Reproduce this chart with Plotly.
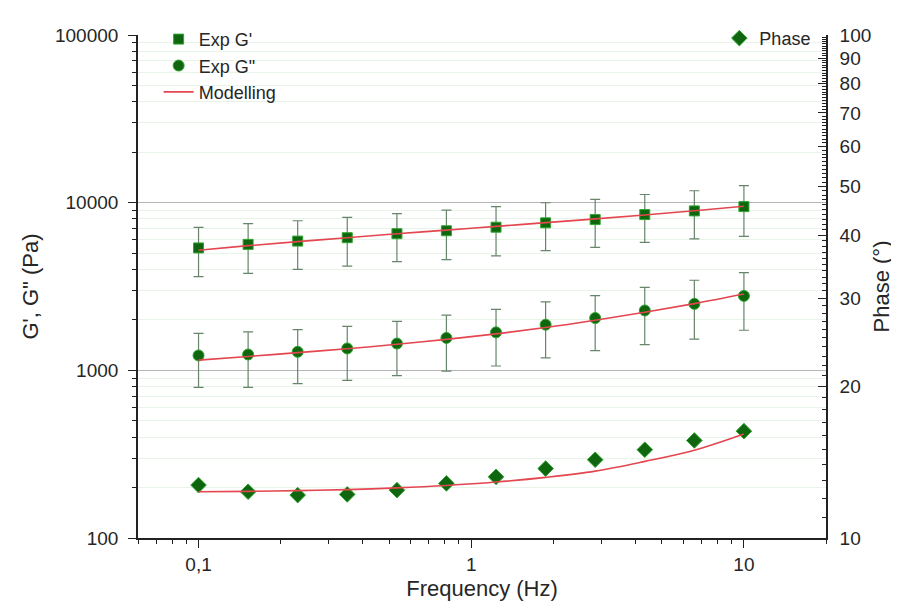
import plotly.graph_objects as go

freq = [0.1, 0.152, 0.231, 0.351, 0.534, 0.811, 1.233, 1.874, 2.848, 4.329, 6.58, 10.0]

g_storage = [5370, 5640, 5900, 6180, 6530, 6800, 7140, 7580, 7930, 8490, 8930, 9470]
g_storage_err = [1750, 1850, 1900, 2000, 2080, 2220, 2320, 2410, 2520, 2700, 2850, 3180]

g_loss = [1227, 1243, 1290, 1350, 1445, 1561, 1685, 1872, 2051, 2275, 2491, 2779]
g_loss_err = [435, 452, 457, 478, 516, 573, 624, 687, 740, 852, 955, 1045]

phase = [12.74, 12.36, 12.17, 12.21, 12.45, 12.84, 13.23, 13.74, 14.31, 14.98, 15.63, 16.31]

model_storage = [5200, 5540, 5860, 6180, 6520, 6860, 7220, 7600, 8000, 8450, 8950, 9520]
model_loss = [1150, 1210, 1275, 1345, 1430, 1530, 1650, 1800, 1990, 2220, 2500, 2850]
model_phase = [12.36, 12.38, 12.42, 12.48, 12.58, 12.72, 12.92, 13.2, 13.58, 14.2, 14.95, 16.1]

x_tickvals = [0.1, 1, 10]
x_ticktext = ["0,1", "1", "10"]
y_tickvals = [100, 1000, 10000, 100000]
y_ticktext = ["100", "1000", "10000", "100000"]
y2_tickvals = [10, 20, 30, 40, 50, 60, 70, 80, 90, 100]
y2_ticktext = [str(v) for v in y2_tickvals]

MARK = "#0f660f"
EDGE = "#2fa52f"
ERR = "#66856a"
RED = "#e4464f"
FONT = "Liberation Sans, Arial, sans-serif"
TXT = "#262626"

fig = go.Figure()

fig.add_trace(go.Scatter(
    x=freq, y=g_storage, mode="markers", name="Exp G'",
    marker=dict(symbol="square", size=10, color=MARK, line=dict(color=EDGE, width=1)),
    error_y=dict(type="data", array=g_storage_err, color=ERR, thickness=1.2, width=5),
    legend="legend",
))
fig.add_trace(go.Scatter(
    x=freq, y=g_loss, mode="markers", name='Exp G"',
    marker=dict(symbol="circle", size=11, color=MARK, line=dict(color=EDGE, width=1)),
    error_y=dict(type="data", array=g_loss_err, color=ERR, thickness=1.2, width=5),
    legend="legend",
))
fig.add_trace(go.Scatter(
    x=freq, y=model_storage, mode="lines", name="Modelling",
    line=dict(color=RED, width=1.6, shape="spline"),
    legend="legend",
))
fig.add_trace(go.Scatter(
    x=freq, y=model_loss, mode="lines", name="Modelling", showlegend=False,
    line=dict(color=RED, width=1.6, shape="spline"),
))
fig.add_trace(go.Scatter(
    x=freq, y=phase, mode="markers", name="Phase", yaxis="y2",
    marker=dict(symbol="diamond", size=12, color=MARK, line=dict(color=EDGE, width=1)),
    legend="legend2",
))
fig.add_trace(go.Scatter(
    x=freq, y=model_phase, mode="lines", name="Modelling", showlegend=False, yaxis="y2",
    line=dict(color=RED, width=1.6, shape="spline"),
))

minor_y = [m * d for d in (100, 1000, 10000) for m in range(2, 10)]
minor_x = [m * d for d in (0.01, 0.1, 1, 10) for m in range(2, 10)]
minor_y2 = [v for v in range(11, 100) if v % 10 != 0]

fig.update_layout(
    width=899, height=608,
    margin=dict(l=130, r=81, t=23, b=78),
    paper_bgcolor="white", plot_bgcolor="white",
    font=dict(family=FONT, size=19, color=TXT),
    xaxis=dict(
        type="log", range=[-1.222, 1.301], automargin=False,
        tickmode="array", tickvals=x_tickvals, ticktext=x_ticktext,
        ticks="outside", ticklen=8, tickwidth=1.3, tickcolor="#222",
        showline=True, linecolor="#222", linewidth=1.6,
        showgrid=False, zeroline=False,
        minor=dict(tickmode="array", tickvals=minor_x, ticks="outside", ticklen=4,
                   tickcolor="#222", showgrid=False),
        title=dict(text="Frequency (Hz)", font=dict(size=22), standoff=7),
        tickfont=dict(size=19),
    ),
    yaxis=dict(
        type="log", range=[2, 5], automargin=False,
        tickmode="array", tickvals=y_tickvals, ticktext=y_ticktext,
        ticks="outside", ticklen=8, tickwidth=1.3, tickcolor="#222",
        showline=True, linecolor="#222", linewidth=1.6,
        showgrid=True, gridcolor="#b4b4b4", gridwidth=1,
        zeroline=False, ticklabelstandoff=6,
        minor=dict(tickmode="array", tickvals=minor_y, ticks="outside", ticklen=4,
                   tickcolor="#222", showgrid=True, gridcolor="#e8f4e8", gridwidth=1),
        title=dict(text='G\', G" (Pa)', font=dict(size=22), standoff=10),
        tickfont=dict(size=19),
    ),
    yaxis2=dict(
        type="log", range=[1, 2], overlaying="y", side="right", automargin=False,
        tickmode="array", tickvals=y2_tickvals, ticktext=y2_ticktext,
        ticks="inside", ticklen=8, tickwidth=1.3, tickcolor="#222",
        showline=True, linecolor="#222", linewidth=1.6,
        showgrid=False, zeroline=False, ticklabelstandoff=8,
        minor=dict(tickmode="array", tickvals=minor_y2, ticks="inside", ticklen=4,
                   tickcolor="#222", showgrid=False),
        title=dict(text="Phase (°)", font=dict(size=22), standoff=3),
        tickfont=dict(size=19),
    ),
    legend=dict(
        x=0.03, y=1.028, xanchor="left", yanchor="top",
        bgcolor="rgba(0,0,0,0)", font=dict(size=18, color=TXT),
        tracegroupgap=0, itemwidth=30,
    ),
    legend2=dict(
        x=0.845, y=1.03, xanchor="left", yanchor="top",
        bgcolor="rgba(0,0,0,0)", font=dict(size=18, color=TXT),
    ),
)

fig.write_html("out.html")
